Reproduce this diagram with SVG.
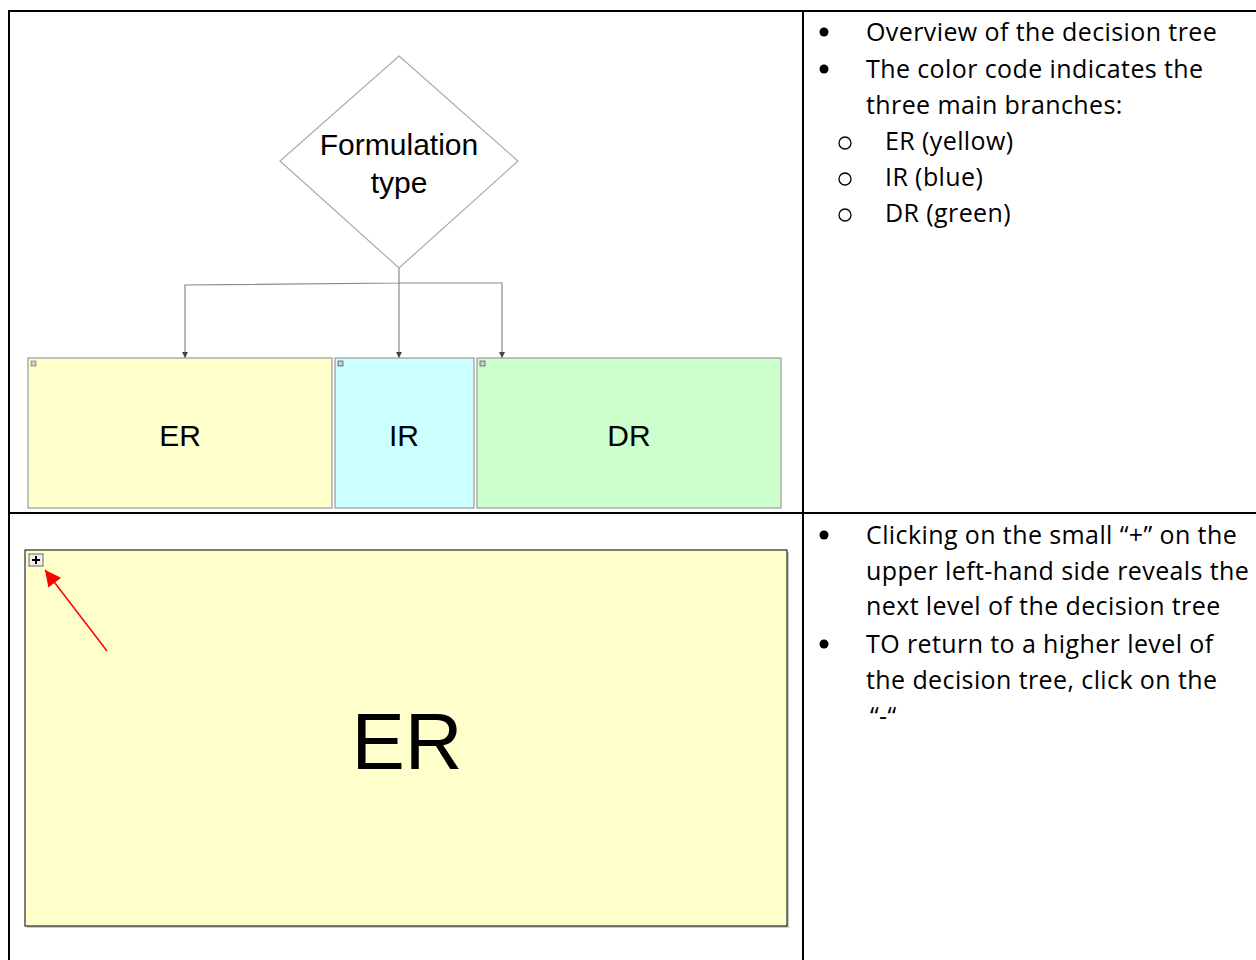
<svg xmlns="http://www.w3.org/2000/svg" width="1256" height="960" viewBox="0 0 1256 960">
<defs>
<style>
.tbl{stroke:#000;stroke-width:2;fill:none}
.node{stroke:#999;stroke-width:1.2}
.lbl{font-family:"Liberation Sans",Arial,sans-serif;fill:#000;text-anchor:middle}
.note{font-family:"Open Sans","Liberation Sans",sans-serif;font-size:25px;letter-spacing:0.4px;fill:#000}
.conn{stroke:#888;stroke-width:1.2;fill:none}
.sub{fill:none;stroke:#000;stroke-width:1.3}
</style>
<marker id="ah" viewBox="0 0 6 6" refX="6" refY="3" markerWidth="6" markerHeight="6" orient="auto" markerUnits="userSpaceOnUse">
<path d="M0,0 L6,3 L0,6 Z" fill="#444"/>
</marker>
<marker id="red" viewBox="0 0 10 10" refX="10" refY="5" markerWidth="20" markerHeight="16" orient="auto" markerUnits="userSpaceOnUse">
<path d="M0,0 L10,5 L0,10 Z" fill="#f00"/>
</marker>
</defs>
<rect width="1256" height="960" fill="#fff"/>
<g id="table">
<line class="tbl" x1="8" y1="11" x2="1256" y2="11"/>
<line class="tbl" x1="9" y1="10" x2="9" y2="960"/>
<line class="tbl" x1="803" y1="10" x2="803" y2="960"/>
<line class="tbl" x1="8" y1="513" x2="1256" y2="513"/>
</g>
<g id="connectors">
<path class="conn" d="M399,268 L399,283 L185,285 L185,358" marker-end="url(#ah)"/>
<path class="conn" d="M399,283 L399,358" marker-end="url(#ah)"/>
<path class="conn" d="M399,283 L502,283 L502,358" marker-end="url(#ah)"/>
</g>
<g id="decision">
<polygon points="399,56 518,161 399,268 280,161" fill="#fff" stroke="#aaa" stroke-width="1.2"/>
<text class="lbl" x="399" y="155" font-size="30">Formulation</text>
<text class="lbl" x="399" y="193" font-size="30">type</text>
</g>
<g id="er">
<rect class="node" x="28" y="358" width="304" height="150" fill="#ffffcc"/>
<rect x="31" y="361" width="5" height="5" fill="#ccc" stroke="#666" stroke-width="0.6"/>
<text class="lbl" x="180" y="446" font-size="30">ER</text>
</g>
<g id="ir">
<rect class="node" x="335" y="358" width="139" height="150" fill="#ccffff"/>
<rect x="338" y="361" width="5" height="5" fill="#ccc" stroke="#333" stroke-width="0.6"/>
<text class="lbl" x="404" y="446" font-size="30">IR</text>
</g>
<g id="dr">
<rect class="node" x="477" y="358" width="304" height="150" fill="#ccffcc"/>
<rect x="480" y="361" width="5" height="5" fill="#ccc" stroke="#333" stroke-width="0.6"/>
<text class="lbl" x="629" y="446" font-size="30">DR</text>
</g>
<g id="er-large">
<rect x="27" y="552" width="762" height="376" fill="#ccc"/>
<rect x="25" y="550" width="762" height="376" fill="#ffffcc" stroke="#000" stroke-width="1"/>
<rect x="29" y="554" width="14" height="12" fill="#eee" stroke="#666" stroke-width="1"/>
<path d="M32,560 H40 M36,556 V564" stroke="#000" stroke-width="2"/>
<text class="lbl" x="407" y="769" font-size="80">ER</text>
</g>
<g id="pointer">
<line x1="107" y1="651" x2="45" y2="570" stroke="#f00" stroke-width="1.5" marker-end="url(#red)"/>
</g>
<g id="notes-top" class="note">
<circle cx="824" cy="32" r="4.5" fill="#000"/>
<text x="866" y="41">Overview of the decision tree</text>
<circle cx="824" cy="69" r="4.5" fill="#000"/>
<text x="866" y="78">The color code indicates the</text>
<text x="866" y="114">three main branches:</text>
<circle class="sub" cx="845" cy="143" r="6"/>
<text x="885" y="150">ER (yellow)</text>
<circle class="sub" cx="845" cy="179" r="6"/>
<text x="885" y="186">IR (blue)</text>
<circle class="sub" cx="845" cy="215" r="6"/>
<text x="885" y="222">DR (green)</text>
</g>
<g id="notes-bottom" class="note">
<circle cx="824" cy="535" r="4.5" fill="#000"/>
<text x="866" y="544">Clicking on the small “+” on the</text>
<text x="866" y="580">upper left-hand side reveals the</text>
<text x="866" y="615">next level of the decision tree</text>
<circle cx="824" cy="644" r="4.5" fill="#000"/>
<text x="866" y="653">TO return to a higher level of</text>
<text x="866" y="689">the decision tree, click on the</text>
<text x="870" y="725">“-“</text>
</g>
</svg>
